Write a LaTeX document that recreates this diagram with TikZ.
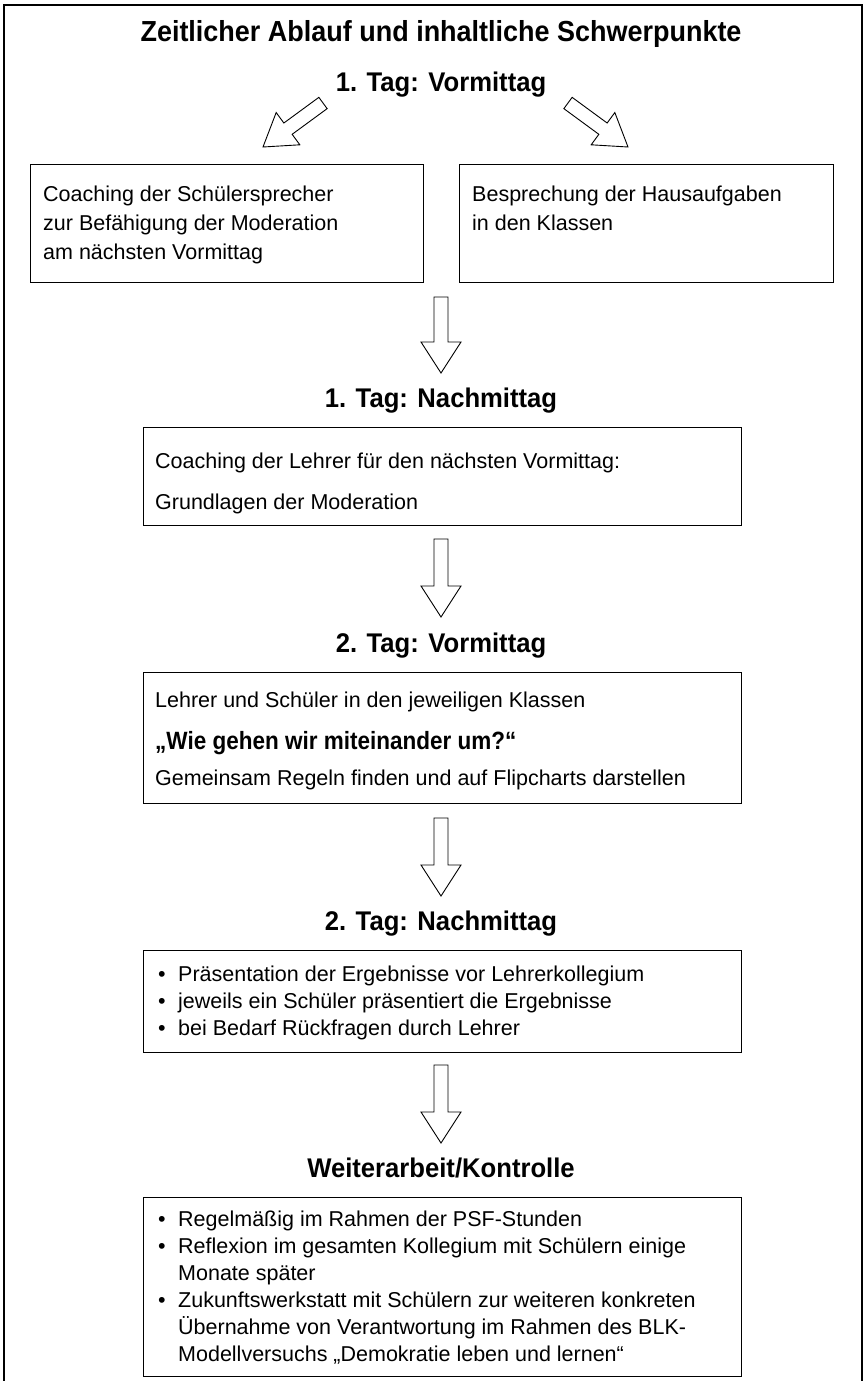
\documentclass[tikz,border=0pt]{standalone}
\usepackage{fontspec}
\setmainfont{Liberation Sans}
\newfontfamily\headfont[FakeStretch=0.95]{Liberation Sans}
\newfontfamily\titlefont[FakeStretch=0.93]{Liberation Sans}
\newfontfamily\quotefont[FakeStretch=0.9]{Liberation Sans}
\usetikzlibrary{calc}

\tikzset{
  stagebox/.style={draw, line width=1.1pt, inner sep=0pt, anchor=north west},
  stagehead/.style={anchor=base, inner sep=0pt, font=\headfont\bfseries\fontsize{27}{32}\selectfont},
  boxline/.style={anchor=base west, inner sep=0pt, font=\fontsize{21.5}{27}\selectfont},
  blockarrow/.style={draw, fill=white, line width=0.9pt, line join=miter},
}

% hollow block arrow from tail coordinate #1 to tip coordinate #2
\newcommand{\flowarrow}[2]{%
  \draw[blockarrow] ($(#1)!7pt!-90:(#2)$)
    -- ($(#2)!31pt!(#1)!7pt!90:(#1)$)
    -- ($(#2)!31pt!(#1)!20pt!90:(#1)$)
    -- (#2)
    -- ($(#2)!31pt!(#1)!20pt!-90:(#1)$)
    -- ($(#2)!31pt!(#1)!7pt!-90:(#1)$)
    -- ($(#1)!7pt!90:(#2)$) -- cycle;}

\begin{document}
\begin{tikzpicture}[x=1pt,y=1pt]
\useasboundingbox (0.000000,0.000000) rectangle (866.000000,-1381.000000);
% Drawing frame
\draw[line width=1.2pt] (4.000000,-5.000000) rectangle (862.000000,-1400.000000);
\node[stagehead, font=\titlefont\bfseries\fontsize{29}{34}\selectfont] (title) at (441.000000,-42.000000) {Zeitlicher Ablauf und inhaltliche Schwerpunkte};
% Stage 1: 1. Tag Vormittag
\node[stagehead] (head1) at (441.000000,-92.000000) {1. Tag: Vormittag};
\coordinate (a0lt) at (323.000000,-103.000000);
\coordinate (a0lh) at (263.000000,-147.000000);
\coordinate (a0rt) at (568.000000,-103.000000);
\coordinate (a0rh) at (628.000000,-147.000000);
\flowarrow{a0lt}{a0lh}
\flowarrow{a0rt}{a0rh}
\node[stagebox, minimum width=393pt, minimum height=118pt] (coachS) at (30.000000,-164.000000) {};
\node[boxline] (cs1) at (43.000000,-201.000000) {Coaching der Schülersprecher};
\node[boxline] (cs2) at (43.000000,-230.000000) {zur Befähigung der Moderation};
\node[boxline] (cs3) at (43.000000,-259.000000) {am nächsten Vormittag};
\node[stagebox, minimum width=374pt, minimum height=118pt] (homework) at (459.000000,-164.000000) {};
\node[boxline] (hw1) at (472.000000,-201.000000) {Besprechung der Hausaufgaben};
\node[boxline] (hw2) at (472.000000,-230.000000) {in den Klassen};
% Stage 2: 1. Tag Nachmittag
\coordinate (a1t) at (441.000000,-297.000000);
\coordinate (a1h) at (441.000000,-373.000000);
\flowarrow{a1t}{a1h}
\node[stagehead] (head2) at (441.000000,-407.000000) {1. Tag: Nachmittag};
\node[stagebox, minimum width=598pt, minimum height=98pt] (coachL) at (143.000000,-427.000000) {};
\node[boxline] (cl1) at (155.000000,-468.000000) {Coaching der Lehrer für den nächsten Vormittag:};
\node[boxline] (cl2) at (155.000000,-509.000000) {Grundlagen der Moderation};
% Stage 3: 2. Tag Vormittag
\coordinate (a2t) at (441.000000,-539.000000);
\coordinate (a2h) at (441.000000,-617.000000);
\flowarrow{a2t}{a2h}
\node[stagehead] (head3) at (441.000000,-652.000000) {2. Tag: Vormittag};
\node[stagebox, minimum width=598pt, minimum height=131pt] (rules) at (143.000000,-672.000000) {};
\node[boxline] (ru1) at (155.000000,-707.000000) {Lehrer und Schüler in den jeweiligen Klassen};
\node[boxline, font=\quotefont\bfseries\fontsize{25}{30}\selectfont] (ru2) at (155.000000,-749.000000) {„Wie gehen wir miteinander um?“};
\node[boxline] (ru3) at (155.000000,-785.000000) {Gemeinsam Regeln finden und auf Flipcharts darstellen};
% Stage 4: 2. Tag Nachmittag
\coordinate (a3t) at (441.000000,-818.000000);
\coordinate (a3h) at (441.000000,-896.000000);
\flowarrow{a3t}{a3h}
\node[stagehead] (head4) at (441.000000,-930.000000) {2. Tag: Nachmittag};
\node[stagebox, minimum width=598pt, minimum height=102pt] (present) at (143.000000,-950.000000) {};
\node[boxline] (pr1) at (158.000000,-981.000000) {\makebox[20pt][l]{\textbullet}Präsentation der Ergebnisse vor Lehrerkollegium};
\node[boxline] (pr2) at (158.000000,-1008.000000) {\makebox[20pt][l]{\textbullet}jeweils ein Schüler präsentiert die Ergebnisse};
\node[boxline] (pr3) at (158.000000,-1035.000000) {\makebox[20pt][l]{\textbullet}bei Bedarf Rückfragen durch Lehrer};
% Stage 5: Weiterarbeit
\coordinate (a4t) at (441.000000,-1065.000000);
\coordinate (a4h) at (441.000000,-1143.000000);
\flowarrow{a4t}{a4h}
\node[stagehead] (head5) at (441.000000,-1177.000000) {Weiterarbeit/Kontrolle};
\node[stagebox, minimum width=598pt, minimum height=179pt] (followup) at (143.000000,-1197.000000) {};
\node[boxline] (fu1) at (158.000000,-1226.000000) {\makebox[20pt][l]{\textbullet}Regelmäßig im Rahmen der PSF-Stunden};
\node[boxline] (fu2) at (158.000000,-1253.000000) {\makebox[20pt][l]{\textbullet}Reflexion im gesamten Kollegium mit Schülern einige};
\node[boxline] (fu3) at (178.000000,-1280.000000) {Monate später};
\node[boxline] (fu4) at (158.000000,-1307.000000) {\makebox[20pt][l]{\textbullet}Zukunftswerkstatt mit Schülern zur weiteren konkreten};
\node[boxline] (fu5) at (178.000000,-1334.000000) {Übernahme von Verantwortung im Rahmen des BLK-};
\node[boxline] (fu6) at (178.000000,-1361.000000) {Modellversuchs „Demokratie leben und lernen“};
\end{tikzpicture}
\end{document}
